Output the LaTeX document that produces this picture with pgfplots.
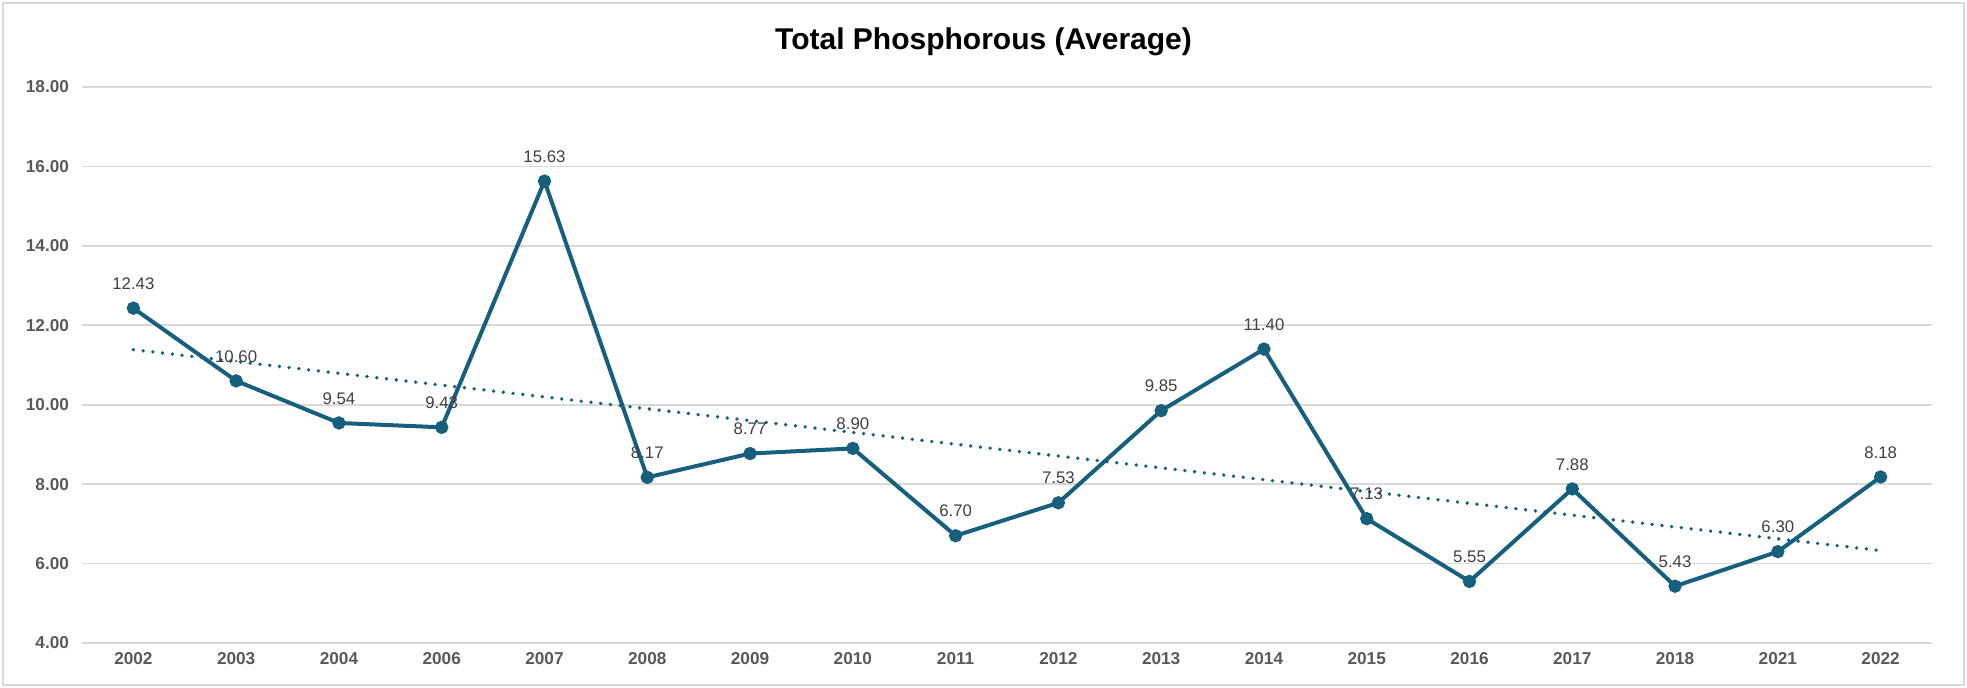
\documentclass[border=0pt]{standalone}
\usepackage{pgfplots}
\pgfplotsset{compat=1.18}
\usepackage{fontspec}
\setmainfont{Liberation Sans}
\definecolor{lineblue}{HTML}{17607D}
\definecolor{gridgray}{HTML}{D9D9D9}
\definecolor{ticktext}{HTML}{595959}
\definecolor{labeltext}{HTML}{404040}
\begin{document}
\begin{tikzpicture}
\path[use as bounding box] (0,0) rectangle (983.5pt,344pt);
\draw[gridgray, line width=0.9pt] (1.5pt,1.5pt) rectangle (982pt,342.5pt);
\node[font=\bfseries\fontsize{15}{18}\selectfont, text=black] at (491.75pt,323pt) {Total Phosphorous (Average)};
\begin{axis}[
  at={(41pt,22.5pt)}, anchor=south west,
  scale only axis,
  width=925pt, height=278pt,
  xmin=-0.5, xmax=17.5,
  ymin=4, ymax=18,
  xtick={0,1,...,17},
  xticklabels={2002,2003,2004,2006,2007,2008,2009,2010,2011,2012,2013,2014,2015,2016,2017,2018,2021,2022},
  ytick={4,6,...,18},
  y tick label style={/pgf/number format/fixed, /pgf/number format/precision=2, /pgf/number format/zerofill},
  /pgf/number format/assume math mode=true,
  ticklabel style={font=\bfseries\fontsize{8.6}{10}\selectfont, text=ticktext},
  yticklabel style={xshift=-3pt},
  xticklabel style={yshift=-1pt},
  axis line style={draw=none},
  major tick style={draw=none},
  ymajorgrids=true,
  grid style={gridgray, line width=0.8pt},
  clip=false,
]
\addplot[lineblue, line width=1.9pt, line cap=round, dash pattern=on 0pt off 4.9pt] coordinates {(0,11.386) (17,6.326)};
\addplot[lineblue, line width=2pt, mark=*, mark size=2.3pt, mark options={solid, fill=lineblue, draw=lineblue},
  point meta=explicit symbolic,
  nodes near coords,
  every node near coord/.append style={font=\fontsize{8.4}{10}\selectfont, text=labeltext, anchor=south, yshift=5pt}]
  coordinates {
  (0,12.43) [12.43]
  (1,10.60) [10.60]
  (2,9.54) [9.54]
  (3,9.43) [9.43]
  (4,15.63) [15.63]
  (5,8.17) [8.17]
  (6,8.77) [8.77]
  (7,8.90) [8.90]
  (8,6.70) [6.70]
  (9,7.53) [7.53]
  (10,9.85) [9.85]
  (11,11.40) [11.40]
  (12,7.13) [7.13]
  (13,5.55) [5.55]
  (14,7.88) [7.88]
  (15,5.43) [5.43]
  (16,6.30) [6.30]
  (17,8.18) [8.18]
  };
\end{axis}
\end{tikzpicture}
\end{document}
